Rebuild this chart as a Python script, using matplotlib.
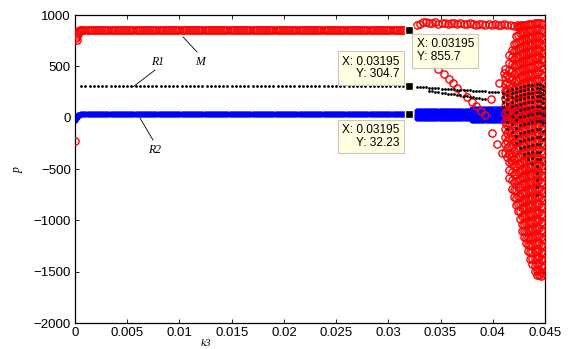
import numpy as np
import matplotlib.pyplot as plt

# ---- data ----
# regular part of the sweep (k3 up to the data tips)
k3_flat = np.arange(0.0006, 0.0320, 0.0002)
M_level = 855.7
R1_level = 304.7
R2_level = 32.23
tip_k3 = 0.03195
tip_p = [855.7, 304.7, 32.23]

# start of the sweep near k3 = 0
m_start_k3 = [0.0001, 0.0002, 0.0003, 0.0004, 0.0005, 0.0002, 0.0003]
m_start_p = [775, 795, 815, 835, 850, 760, 845]
m_outlier_k3 = [0.0]
m_outlier_p = [-230]
r2_start_k3 = [0.0, 0.0001, 0.0002, 0.0003, 0.0004]
r2_start_p = [-25, -8, 10, 22, 30]

# M upper branch after the tip
m_up_k3 = [0.0327, 0.0330, 0.0333, 0.0336, 0.0339, 0.0342, 0.0345, 0.0348, 0.0351,
           0.0354, 0.0357, 0.0360, 0.0363, 0.0366, 0.0369, 0.0372, 0.0375, 0.0378,
           0.0381, 0.0384, 0.0387, 0.0390, 0.0393, 0.0396, 0.0399, 0.0402, 0.0405,
           0.0408, 0.0411, 0.0414, 0.0417, 0.0420, 0.0423, 0.0426]
m_up_p = [905, 915, 930, 935, 925, 920, 930, 915, 925, 920, 915, 925, 920, 910,
          920, 915, 910, 920, 915, 905, 915, 910, 905, 915, 905, 910, 900, 905,
          910, 900, 905, 895, 905, 900]
# M lower branch (falling line of circles)
m_low_k3 = [0.0348, 0.0353, 0.0358, 0.0362, 0.0366, 0.0371, 0.0375, 0.0380,
            0.0384, 0.0389, 0.0393]
m_low_p = [475, 425, 380, 335, 290, 245, 200, 150, 110, 65, 25]
# scattered circles left of the cloud
m_scat_k3 = [0.0399, 0.0404, 0.0409, 0.0417, 0.0398, 0.0406, 0.0411, 0.0413]
m_scat_p = [-150, -255, -345, -410, 180, 340, 435, 250]

# dense cloud near the end of the sweep (two interleaved sets of columns)
cloud_k3 = [0.0412, 0.0416, 0.0420, 0.0424, 0.0428, 0.0432, 0.0436, 0.0440, 0.0444, 0.0448]
m_cloud_p = [
    [470, 400, 330, 260, 190, 110, 40, -40, -110, -190, -260, -340],
    [610, 530, 460, 390, 320, 240, 170, 100, 30, -50, -120, -200, -280, -350, -430, -510, -590],
    [720, 650, 570, 500, 430, 350, 280, 210, 140, 60, -10, -90, -170, -240, -320, -400,
     -470, -550, -630, -700, -770],
    [880, 810, 740, 670, 590, 520, 450, 370, 300, 230, 150, 80, 10, -70, -150, -220,
     -300, -380, -450, -530, -610, -680, -760, -840, -910],
    [900, 830, 760, 690, 620, 540, 470, 400, 320, 250, 170, 100, 30, -50, -120, -200,
     -270, -350, -430, -500, -580, -650, -730, -810, -880, -960, -1040, -1100],
    [905, 840, 770, 700, 630, 550, 480, 410, 330, 260, 190, 110, 40, -40, -110, -190,
     -260, -340, -420, -490, -570, -640, -720, -800, -870, -950, -1030, -1100, -1170, -1220],
    [915, 850, 780, 710, 640, 560, 490, 420, 340, 270, 200, 120, 50, -30, -100, -180,
     -250, -330, -410, -480, -560, -630, -710, -790, -860, -940, -1020, -1090, -1170,
     -1240, -1310, -1380],
    [920, 860, 790, 720, 650, 580, 500, 430, 360, 280, 210, 130, 60, -20, -90, -170,
     -240, -320, -400, -470, -550, -620, -700, -780, -850, -930, -1010, -1080, -1160,
     -1230, -1300, -1370, -1440, -1490],
    [925, 860, 800, 730, 660, 590, 520, 440, 370, 300, 220, 150, 70, 0, -80, -160, -230,
     -310, -390, -460, -540, -610, -690, -770, -840, -920, -1000, -1070, -1150, -1220,
     -1290, -1360, -1420, -1480, -1530],
    [910, 840, 770, 700, 630, 560, 480, 410, 340, 260, 190, 110, 40, -40, -110, -190,
     -260, -340, -420, -490, -570, -640, -720, -800, -870, -950, -1030, -1100, -1180,
     -1250, -1320, -1390, -1450, -1510],
]
cloud2_k3 = [0.0414, 0.0418, 0.0422, 0.0426, 0.0430, 0.0434, 0.0438, 0.0442, 0.0446]
m_cloud2_p = [
    [420, 350, 280, 215, 145, 75, 5, -75, -150, -225, -300, -380],
    [660, 590, 520, 450, 380, 300, 230, 160, 90, 15, -60, -135, -210, -290, -370, -450,
     -530, -610, -690],
    [800, 730, 660, 590, 510, 440, 370, 290, 220, 150, 70, 0, -80, -160, -240, -310,
     -390, -470, -550, -620, -700, -780, -850],
    [890, 820, 750, 680, 610, 530, 460, 390, 310, 240, 160, 90, 20, -60, -140, -210,
     -290, -370, -450, -520, -600, -680, -760, -830, -910, -990],
    [900, 835, 765, 695, 625, 545, 475, 405, 325, 255, 180, 105, 35, -45, -115, -195,
     -265, -345, -425, -495, -575, -645, -725, -805, -875, -955, -1035, -1105, -1160],
    [910, 845, 775, 705, 635, 555, 485, 415, 335, 265, 195, 115, 45, -35, -105, -185,
     -255, -335, -415, -485, -565, -635, -715, -795, -865, -945, -1025, -1095, -1175,
     -1245, -1300],
    [915, 855, 785, 715, 645, 570, 495, 425, 350, 275, 205, 125, 55, -25, -95, -175,
     -245, -325, -405, -475, -555, -625, -705, -785, -855, -935, -1015, -1085, -1165,
     -1235, -1305, -1375, -1430],
    [920, 860, 795, 725, 655, 585, 510, 435, 365, 290, 215, 140, 65, -10, -85, -165,
     -235, -315, -395, -465, -545, -615, -695, -775, -845, -925, -1005, -1075, -1155,
     -1225, -1295, -1365, -1430, -1485, -1530],
    [920, 850, 785, 715, 645, 575, 500, 425, 355, 280, 205, 130, 55, -25, -100, -175,
     -250, -325, -405, -475, -555, -625, -705, -785, -860, -935, -1015, -1090, -1165,
     -1240, -1310, -1380, -1440, -1500, -1545],
]

# R1 after the tip: two dotted branches
r1_up_k3 = [0.0327, 0.0330, 0.0333, 0.0336, 0.0339, 0.0342, 0.0345, 0.0348, 0.0351,
            0.0354, 0.0357, 0.0360, 0.0363, 0.0366, 0.0369, 0.0372, 0.0375, 0.0378,
            0.0381, 0.0384, 0.0387, 0.0390, 0.0393, 0.0396, 0.0399, 0.0402, 0.0405]
r1_up_p = [300, 298, 296, 294, 292, 290, 288, 286, 284, 282, 280, 278, 276, 274, 272,
           270, 268, 266, 264, 262, 260, 258, 256, 254, 252, 250, 248]
r1_low_k3 = [0.0339, 0.0342, 0.0345, 0.0348, 0.0351, 0.0354, 0.0357, 0.0360, 0.0363,
             0.0366, 0.0369, 0.0372, 0.0375, 0.0378, 0.0381, 0.0384, 0.0387, 0.0390,
             0.0393]
r1_low_p = [262, 258, 253, 249, 244, 240, 235, 230, 226, 221, 216, 212, 207, 202, 198,
            193, 188, 184, 180]
r1_cloud_k3 = [0.0410, 0.0414, 0.0418, 0.0422, 0.0426, 0.0430, 0.0434, 0.0438, 0.0442, 0.0445, 0.0448]
r1_cloud_p = [
    [240, 200, 150, 100],
    [260, 220, 180, 130, 60, -40, -110],
    [280, 240, 200, 150, 110, 20, -60, -140],
    [290, 250, 210, 170, 120, 60, -20, -100, -180, -250],
    [300, 260, 220, 180, 130, 70, 10, -70, -150, -230, -300],
    [310, 270, 230, 190, 140, 80, 20, -60, -140, -220, -290, -350],
    [320, 280, 240, 200, 150, 90, 30, -50, -130, -210, -280, -340, -400],
    [320, 280, 240, 200, 150, 100, 40, -40, -120, -200, -270, -330, -390, -450],
    [330, 290, 250, 210, 160, 110, 50, -30, -110, -190, -260, -330, -400, -470, -540,
     -610, -680, -750],
    [330, 290, 250, 210, 160, 110, 50, -30, -110, -190, -260, -330, -400],
    [310, 270, 230, 190, 140, 90, 30, -50, -130, -210],
]

# R2 after the tip: band, wider towards the end
r2_band_k3 = np.arange(0.0327, 0.0450, 0.0002)
r2_band_rows = [62, 40, 18, -4]
r2_wide_k3 = np.arange(0.0380, 0.0450, 0.0002)
r2_wide_rows = [80, -22]

# data tip texts
tip_text = ["X: 0.03195\nY: 855.7", "X: 0.03195\nY: 304.7", "X: 0.03195\nY: 32.23"]

xticks = [0, 0.005, 0.01, 0.015, 0.02, 0.025, 0.03, 0.035, 0.04, 0.045]
xticklabels = ["0", "0.005", "0.01", "0.015", "0.02", "0.025", "0.03", "0.035", "0.04", "0.045"]
yticks = [-2000, -1500, -1000, -500, 0, 500, 1000]

plt.rcParams['font.family'] = ['Liberation Sans', 'DejaVu Sans']

fig = plt.figure(figsize=(5.7, 3.49), dpi=100)
ax = fig.add_axes([75 / 570, 1 - 323 / 349, 470 / 570, 308 / 349])

red = dict(ls='none', marker='o', mfc='none', mec='red', ms=5.2, mew=1.0, zorder=3)
blue = dict(ls='none', marker='.', color='blue', ms=7, zorder=2)
black = dict(ls='none', marker='o', color='black', ms=2.0, mew=0, zorder=4)

# R2 (blue)
ax.plot(k3_flat, np.full(len(k3_flat), R2_level), **blue)
ax.plot(r2_start_k3, r2_start_p, **blue)
for row in r2_band_rows:
    ax.plot(r2_band_k3, np.full(len(r2_band_k3), row), **blue)
for row in r2_wide_rows:
    ax.plot(r2_wide_k3, np.full(len(r2_wide_k3), row), **blue)

# M (red circles)
ax.plot(k3_flat, np.full(len(k3_flat), M_level), **red)
ax.plot(m_start_k3, m_start_p, **red)
ax.plot(m_outlier_k3, m_outlier_p, **red)
ax.plot(m_up_k3, m_up_p, **red)
ax.plot(m_low_k3, m_low_p, **red)
ax.plot(m_scat_k3, m_scat_p, **red)
for k, ps in zip(cloud_k3, m_cloud_p):
    ax.plot(np.full(len(ps), k), ps, **red)
for k, ps in zip(cloud2_k3, m_cloud2_p):
    ax.plot(np.full(len(ps), k), ps, **red)

# R1 (black dots)
k3_r1 = k3_flat[::2]
ax.plot(k3_r1, np.full(len(k3_r1), R1_level), **black)
ax.plot(r1_up_k3, r1_up_p, **black)
ax.plot(r1_low_k3, r1_low_p, **black)
for k, ps in zip(r1_cloud_k3, r1_cloud_p):
    ax.plot(np.full(len(ps), k), ps, **black)

# data tips
ax.plot([tip_k3] * 3, tip_p, ls='none', marker='s', ms=6, mfc='black',
        mec='#ffffe1', mew=1.0, zorder=6)
tip_box = dict(boxstyle='square,pad=0.35', fc='#ffffe1', ec='#c8c8c0', lw=0.8)
ax.text(0.03270, 650, tip_text[0], ha='left', va='center', ma='left',
        fontsize=8.6, bbox=tip_box, zorder=7, linespacing=1.1)
ax.text(0.03110, 484, tip_text[1], ha='right', va='center', ma='right',
        fontsize=8.6, bbox=tip_box, zorder=7, linespacing=1.1)
ax.text(0.03110, -180, tip_text[2], ha='right', va='center', ma='right',
        fontsize=8.6, bbox=tip_box, zorder=7, linespacing=1.1)

# curve labels
lab = dict(fontsize=8.5, fontstyle='italic', family=['Liberation Serif', 'DejaVu Serif'],
           ha='center', va='center', zorder=8)
ax.plot([0.01034, 0.01168], [786, 640], color='black', lw=0.6, zorder=8)
ax.text(0.01200, 545, 'M', **lab)
ax.plot([0.00555, 0.00766], [299, 464], color='black', lw=0.6, zorder=8)
ax.text(0.00790, 545, 'R1', **lab)
ax.plot([0.00622, 0.00747], [-3, -218], color='black', lw=0.6, zorder=8)
ax.text(0.00766, -315, 'R2', **lab)

ax.set_xlim(0, 0.045)
ax.set_ylim(-2000, 1000)
ax.set_xticks(xticks)
ax.set_xticklabels(xticklabels)
ax.set_yticks(yticks)
ax.set_yticklabels([str(v).replace('-', '\u2212') for v in yticks])
ax.tick_params(direction='in', length=3, width=0.6, labelsize=9.5, pad=3,
               top=True, right=True)
for s in ax.spines.values():
    s.set_linewidth(0.9)

fig.text(18 / 570, 1 - 170 / 349, 'p', rotation=90, fontsize=8.5, fontstyle='italic',
         family=['Liberation Serif', 'DejaVu Serif'], ha='center', va='center')
fig.text(206 / 570, 1 - 339 / 349, 'k3', fontsize=8, fontstyle='italic',
         family=['Liberation Serif', 'DejaVu Serif'], ha='center', va='top')

fig.savefig('out.png', dpi=100)
